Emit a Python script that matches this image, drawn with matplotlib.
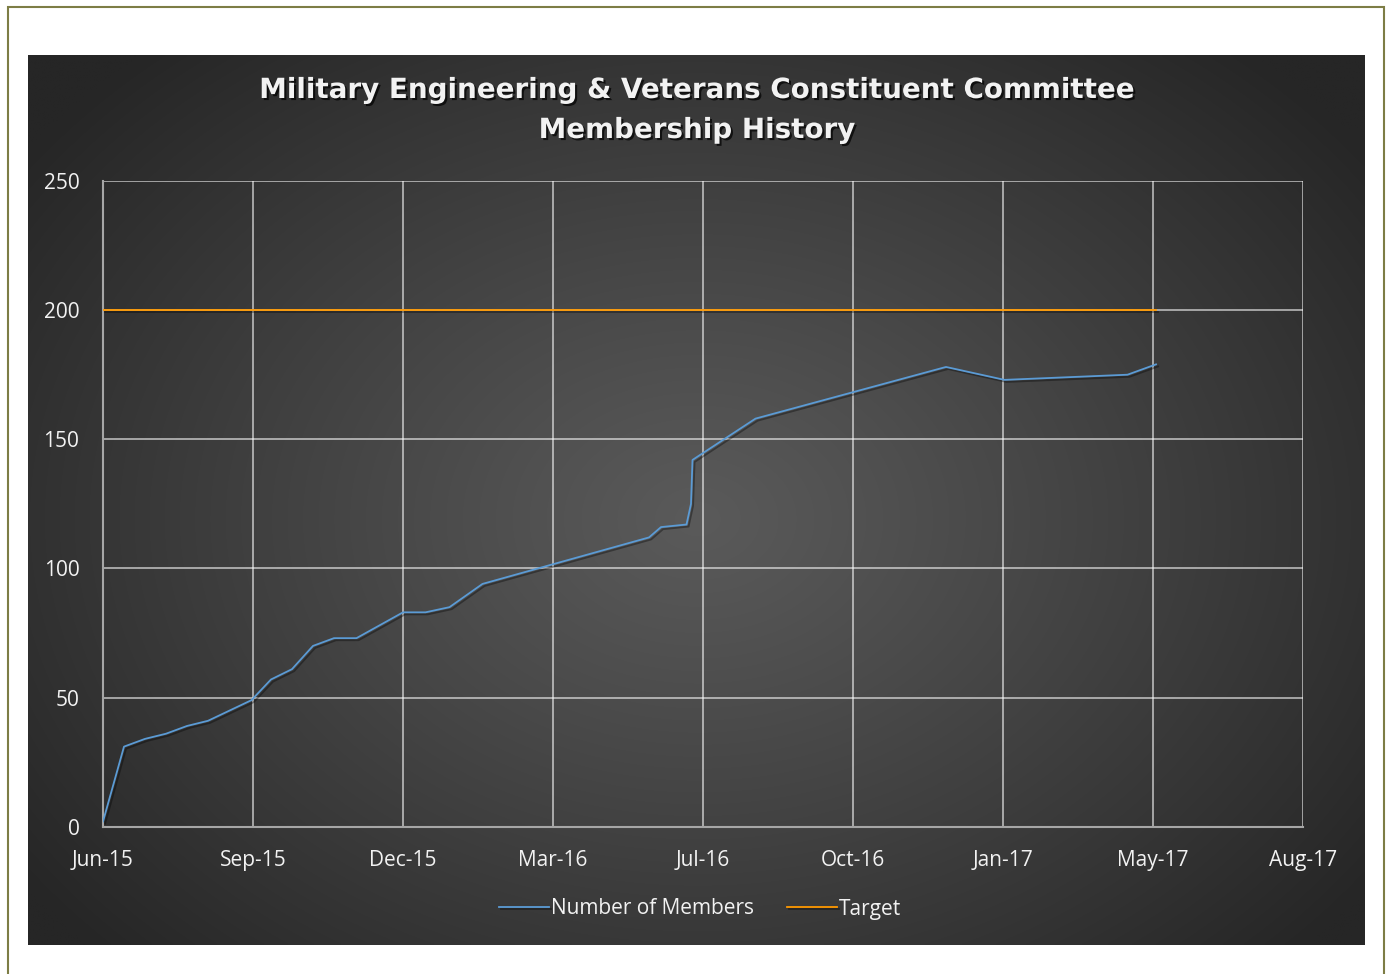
import numpy as np
import matplotlib
matplotlib.use("Agg")
import matplotlib.pyplot as plt
import matplotlib.dates as mdates
import matplotlib.patheffects as pe
from matplotlib.patches import Rectangle
import datetime as dt

# ---- data ----
member_dates = ["2015-06-01", "2015-06-15", "2015-06-29", "2015-07-13", "2015-07-27",
                "2015-08-10", "2015-09-08", "2015-09-21", "2015-10-05", "2015-10-19",
                "2015-11-02", "2015-11-17", "2015-12-18", "2016-01-02", "2016-01-18",
                "2016-02-09", "2016-05-30", "2016-06-07", "2016-06-24", "2016-06-27",
                "2016-06-28", "2016-08-09", "2016-12-14", "2017-01-22", "2017-04-14",
                "2017-05-03"]
members = [2, 31, 34, 36, 39, 41, 49, 57, 61, 70, 73, 73, 83, 83, 85, 94, 112, 116,
           117, 125, 142, 158, 178, 173, 175, 179]
target_dates = ["2015-06-01", "2017-05-03"]
target = [200, 200]
title_lines = ["Military Engineering & Veterans Constituent Committee", "Membership History"]
y_ticks = [0, 50, 100, 150, 200, 250]
x_start = "2015-06-01"
x_step_days = 100
n_x_steps = 8

def to_dt(s):
    return dt.datetime.strptime(s, "%Y-%m-%d")

W, H = 1389, 974
fig = plt.figure(figsize=(W / 100, H / 100), dpi=100)
fig.patch.set_facecolor("white")

# outer olive frame (bottom edge runs past the image)
fig.add_artist(Rectangle((8 / W, -5 / H), (1384 - 8) / W, (974 - 7 + 5) / H,
                         transform=fig.transFigure, fill=False,
                         edgecolor="#7d7d45", linewidth=1.5))

# dark gradient panel
px0, px1, py0, py1 = 28, 1365, 55, 945
bg = fig.add_axes([px0 / W, (H - py1) / H, (px1 - px0) / W, (py1 - py0) / H])
bg.set_axis_off()
ny, nx = 300, 450
yy, xx = np.mgrid[0:ny, 0:nx]
cx, cy = 0.50 * nx, 0.52 * ny
d = np.sqrt(((xx - cx) / (0.62 * nx)) ** 2 + ((yy - cy) / (0.70 * ny)) ** 2)
d = np.clip(d, 0, 1)
c_in, c_out = 0x5a / 255, 0x26 / 255
val = c_in + (c_out - c_in) * d ** 1.1
img = np.dstack([val, val, val])
bg.imshow(img, aspect="auto", extent=[0, 1, 0, 1], interpolation="bilinear")
bg.set_xlim(0, 1)
bg.set_ylim(0, 1)

# main axes
ax = fig.add_axes([103 / W, (H - 826.7) / H, 1200 / W, 645.7 / H])
ax.patch.set_alpha(0)

xd = [to_dt(s) for s in member_dates]
td = [to_dt(s) for s in target_dates]
x0 = to_dt(x_start)
xticks = [x0 + dt.timedelta(days=x_step_days * i) for i in range(n_x_steps + 1)]

shadow = [pe.SimpleLineShadow(offset=(1.5, -1.5), shadow_color="black", alpha=0.35),
          pe.Normal()]
ax.plot(xd, members, color="#5b9bd5", lw=1.3, label="Number of Members",
        path_effects=shadow, zorder=4, solid_joinstyle="round")
ax.plot(td, target, color="#ff9900", lw=1.3, label="Target",
        path_effects=shadow, zorder=4)

ax.set_xlim(xticks[0], xticks[-1])
ax.set_ylim(0, 250)
ax.set_xticks(xticks)
ax.xaxis.set_major_formatter(mdates.DateFormatter("%b-%y"))
ax.set_yticks(y_ticks)

ax.grid(True, color="white", alpha=0.6, lw=1.3)
ax.set_axisbelow(True)
for s in ["top", "right"]:
    ax.spines[s].set_visible(False)
for s in ["left", "bottom"]:
    ax.spines[s].set_color("#a6a6a6")
    ax.spines[s].set_linewidth(1.5)
ax.tick_params(length=0, colors="white", labelsize=15)
ax.tick_params(axis="x", pad=17)
ax.tick_params(axis="y", pad=17)
for lab in ax.get_xticklabels() + ax.get_yticklabels():
    lab.set_family("Open Sans")
    lab.set_color("#f2f2f2")

# title
tshadow = [pe.withSimplePatchShadow(offset=(1.5, -1.5), shadow_rgbFace="black", alpha=0.7)]
fig.text(697 / W, 1 - 90 / H, title_lines[0], ha="center", va="center",
         color="#f2f2f2", fontsize=20, fontweight="bold", family="DejaVu Sans",
         path_effects=tshadow)
fig.text(697 / W, 1 - 130 / H, title_lines[1], ha="center", va="center",
         color="#f2f2f2", fontsize=20, fontweight="bold", family="DejaVu Sans",
         path_effects=tshadow)

leg = ax.legend(loc="center", bbox_to_anchor=(700 / W, 1 - 909 / H),
                bbox_transform=fig.transFigure, ncol=2, frameon=False,
                prop={"family": "Open Sans", "size": 15}, handlelength=2.4,
                handletextpad=0.1, columnspacing=1.6)
for t in leg.get_texts():
    t.set_color("#f2f2f2")

fig.savefig("out.png", dpi=100, facecolor="white")
